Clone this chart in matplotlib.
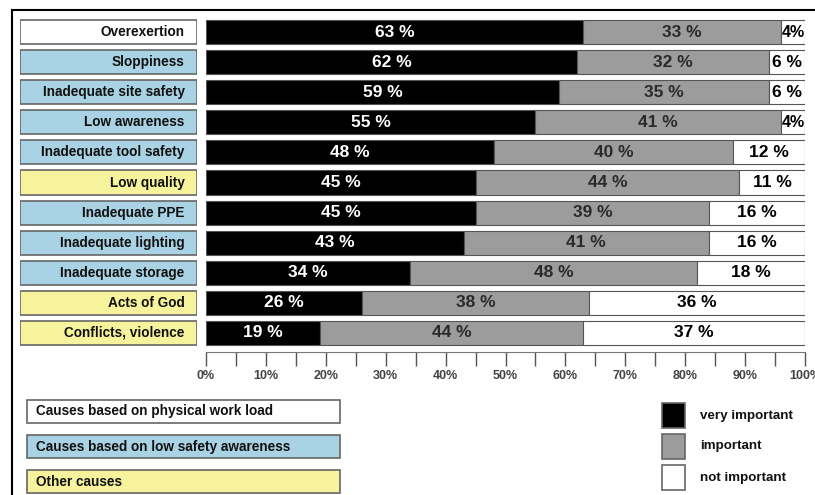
import numpy as np
import matplotlib.pyplot as plt
from matplotlib.lines import Line2D
from matplotlib.patches import Rectangle

plt.rcParams['font.family'] = ['Liberation Sans', 'DejaVu Sans']
plt.rcParams['font.weight'] = 'bold'

causes = ["Overexertion", "Sloppiness", "Inadequate site safety", "Low awareness",
          "Inadequate tool safety", "Low quality", "Inadequate PPE", "Inadequate lighting",
          "Inadequate storage", "Acts of God", "Conflicts, violence"]
groups = ["work", "safety", "safety", "safety", "safety", "other",
          "safety", "safety", "safety", "other", "other"]
very_imp = [63, 62, 59, 55, 48, 45, 45, 43, 34, 26, 19]
imp = [33, 32, 35, 41, 40, 44, 39, 41, 48, 38, 44]
not_imp = [4, 6, 6, 4, 12, 11, 16, 16, 18, 36, 37]

group_names = ["Causes based on physical work load",
               "Causes based on low safety awareness",
               "Other causes"]
group_keys = ["work", "safety", "other"]
group_colors = {"work": "white", "safety": "#a9d3e4", "other": "#f7f39c"}

level_names = ["very important", "important", "not important"]
level_colors = ["black", "#9c9c9c", "white"]
text_colors = ["white", "#2a2a2a", "black"]

W, H = 815, 495
fig = plt.figure(figsize=(W / 100, H / 100), dpi=100)

def box(l, t, r, b):
    return [l / W, 1 - b / H, (r - l) / W, (b - t) / H]

# frame lines
fig.add_artist(Line2D([12 / W, 1], [1 - 10 / H, 1 - 10 / H], color="black", lw=1.5))
fig.add_artist(Line2D([12 / W, 12 / W], [0, 1 - 10 / H], color="black", lw=1.5))

ax = fig.add_axes(box(206, 17, 805, 348))
y = np.arange(len(causes))
left = np.zeros(len(causes))
for vals, col, tcol in zip([very_imp, imp, not_imp], level_colors, text_colors):
    vals = np.array(vals)
    ax.barh(y, vals, left=left, height=0.8, color=col, edgecolor="#555555", lw=0.8)
    for yi, l, v in zip(y, left, vals):
        lab = f"{v}%" if v < 5 else f"{v} %"
        ax.text(l + v / 2, yi, lab, ha="center", va="center", color=tcol,
                fontsize=12.5 if v >= 5 else 11.5, fontweight="bold")
    left = left + vals
ax.set_xlim(0, 100)
ax.set_ylim(len(causes) - 0.5, -0.5)
ax.set_yticks([])
for s in ["top", "right", "left"]:
    ax.spines[s].set_visible(False)
ax.spines["bottom"].set_position(("outward", 3))
ax.spines["bottom"].set_color("#777777")
ax.spines["bottom"].set_linewidth(0.8)
ax.set_xticks(np.arange(0, 101, 10))
ax.set_xticks(np.arange(5, 100, 10), minor=True)
ax.set_xticklabels([f"{t}%" for t in range(0, 101, 10)], fontsize=9, color="#444444")
ax.tick_params(axis="x", which="both", length=10, width=1, color="#555555",
               direction="out", pad=3)

# category label boxes
lax = fig.add_axes(box(20, 17, 197, 348))
lax.barh(y, 1, height=0.8, color=[group_colors[g] for g in groups],
         edgecolor="#666666", lw=1.2)
for yi, c in zip(y, causes):
    lax.text(0.93, yi, c, ha="right", va="center", fontsize=9.8, fontweight="bold",
             color="#111111")
lax.set_xlim(0, 1)
lax.set_ylim(len(causes) - 0.5, -0.5)
lax.axis("off")

# group legend
gax = fig.add_axes(box(27, 398, 340, 495))
gax.set_xlim(0, 1)
gax.set_ylim(97, 0)
for i, (k, name) in enumerate(zip(group_keys, group_names)):
    gax.add_patch(Rectangle((0, 2 + i * 35), 1, 23, facecolor=group_colors[k],
                            edgecolor="#666666", lw=1.2, clip_on=False))
    gax.text(0.03, 13.5 + i * 35, name, ha="left", va="center", fontsize=9.8,
             fontweight="bold", color="#111111")
gax.axis("off")

# level legend
kax = fig.add_axes(box(655, 398, 815, 495))
kax.set_xlim(0, 160)
kax.set_ylim(97, 0)
for i, (name, col) in enumerate(zip(level_names, level_colors)):
    kax.add_patch(Rectangle((7, 5 + i * 31), 23, 25, facecolor=col,
                            edgecolor="#666666", lw=1.2))
    kax.text(45, 17.5 + i * 31, name, ha="left", va="center", fontsize=9.6,
             fontweight="bold", color="#111111")
kax.axis("off")

fig.savefig("out.png", dpi=100)
